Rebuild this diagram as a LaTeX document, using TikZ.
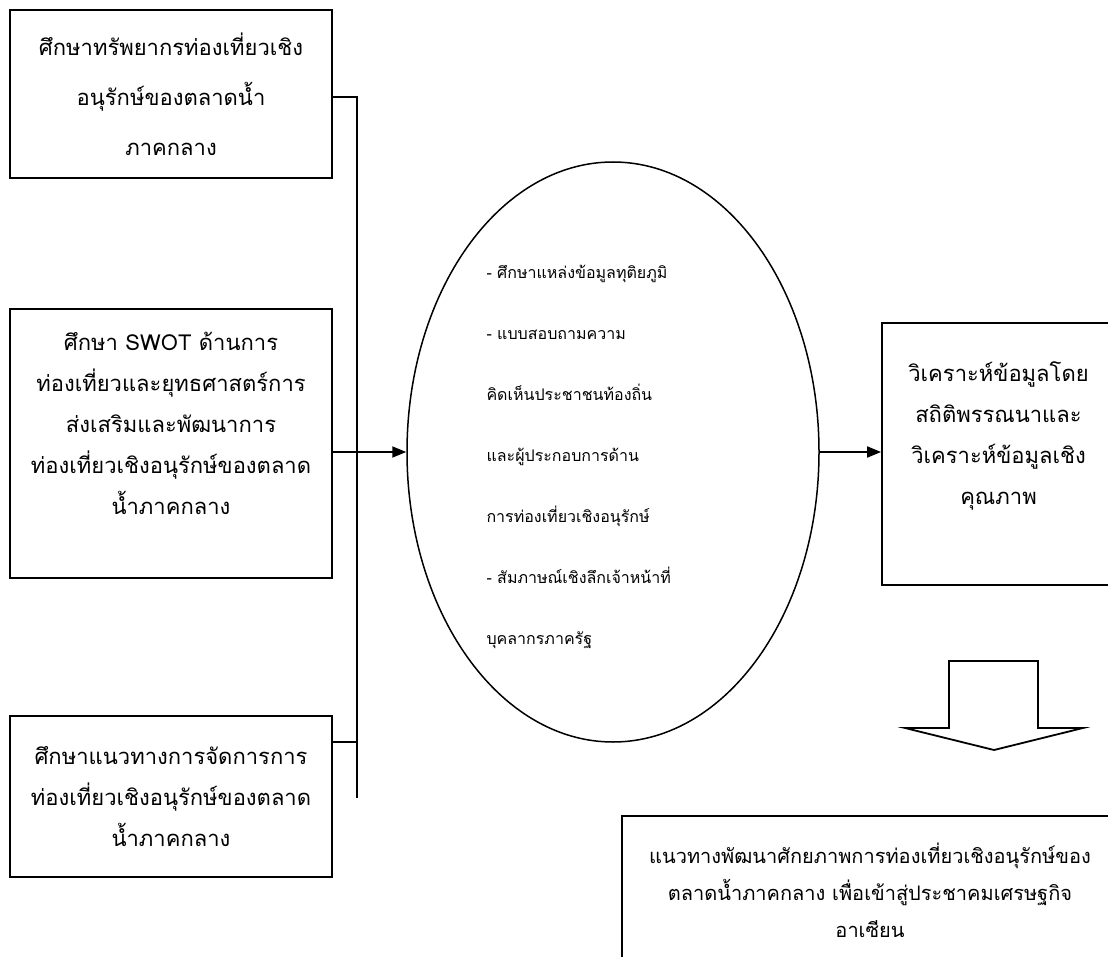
\documentclass[tikz,border=0pt]{standalone}
\usepackage{fontspec}
\newfontfamily\thaifont[Script=Thai]{Loma}
\usetikzlibrary{positioning,arrows.meta,shapes.geometric}
\newcommand*{\BoxLine}{1.8pt}
\tikzset{
  study box/.style={
    draw, line width=\BoxLine, align=center, minimum width=322pt,
    font=\thaifont\fontsize{22}{41}\selectfont,
  },
  method oval/.style={
    draw, ellipse, line width=1.5pt,
    minimum width=412pt, minimum height=580pt,
  },
  method text/.style={
    anchor=west, align=left, font=\thaifont\fontsize{16}{61}\selectfont,
  },
  flow/.style={line width=\BoxLine},
}
\begin{document}
\begin{tikzpicture}[x=1pt,y=-1pt,>={Triangle[length=14pt,width=11pt]}]
  \useasboundingbox (0,0) rectangle (1108,957);

  % study boxes on the left
  \node[study box, minimum height=168pt, font=\thaifont\fontsize{22}{50}\selectfont] (resource) at (171,94)
    {ศึกษาทรัพยากรท่องเที่ยวเชิง\\อนุรักษ์ของตลาดน้ำ\\ภาคกลาง};
  \node[study box, minimum height=269pt] (swot) at (171,443.5)
    {ศึกษา SWOT ด้านการ\\ท่องเที่ยวและยุทธศาสตร์การ\\ส่งเสริมและพัฒนาการ\\ท่องเที่ยวเชิงอนุรักษ์ของตลาด\\น้ำภาคกลาง\\~};
  \node[study box, minimum height=161pt] (manage) at (171,796.5)
    {ศึกษาแนวทางการจัดการการ\\ท่องเที่ยวเชิงอนุรักษ์ของตลาด\\น้ำภาคกลาง};

  % methods
  \node[method oval] (method) at (613,452) {};
  \node[method text] (methodtext) at (483,457)
    {- ศึกษาแหล่งข้อมูลทุติยภูมิ\\- แบบสอบถามความ\\คิดเห็นประชาชนท้องถิ่น\\และผู้ประกอบการด้าน\\การท่องเที่ยวเชิงอนุรักษ์\\- สัมภาษณ์เชิงลึกเจ้าหน้าที่\\บุคลากรภาครัฐ};

  % analysis and result
  \node[study box, minimum width=233pt, minimum height=262pt] (analysis) at (998.5,454)
    {วิเคราะห์ข้อมูลโดย\\สถิติพรรณนาและ\\วิเคราะห์ข้อมูลเชิง\\คุณภาพ\\~};
  \node[study box, minimum width=496pt, minimum height=149pt, font=\thaifont\fontsize{20}{37}\selectfont] (result) at (870,890.5)
    {แนวทางพัฒนาศักยภาพการท่องเที่ยวเชิงอนุรักษ์ของ\\ตลาดน้ำภาคกลาง เพื่อเข้าสู่ประชาคมเศรษฐกิจ\\อาเซียน};

  % collecting line
  \coordinate (bustop) at (357,97);
  \coordinate (busend) at (357,798);
  \draw[flow] (resource.east |- bustop) -- (bustop) -- (busend);
  \draw[flow] (manage.east |- 0,742) -- (busend |- 0,742);
  \draw[flow,->] (swot.east |- method.west) -- (method.west);
  \draw[flow,->] (method.east) -- (method.east -| analysis.west);

  % block arrow down
  \coordinate (down) at (994,661);
  \draw[flow] (down) ++(-45,0) -- ++(89,0) -- ++(0,67) -- ++(45,0)
    -- (994,750) -- (905,728) -- ++(44,0) -- cycle;
\end{tikzpicture}
\end{document}
